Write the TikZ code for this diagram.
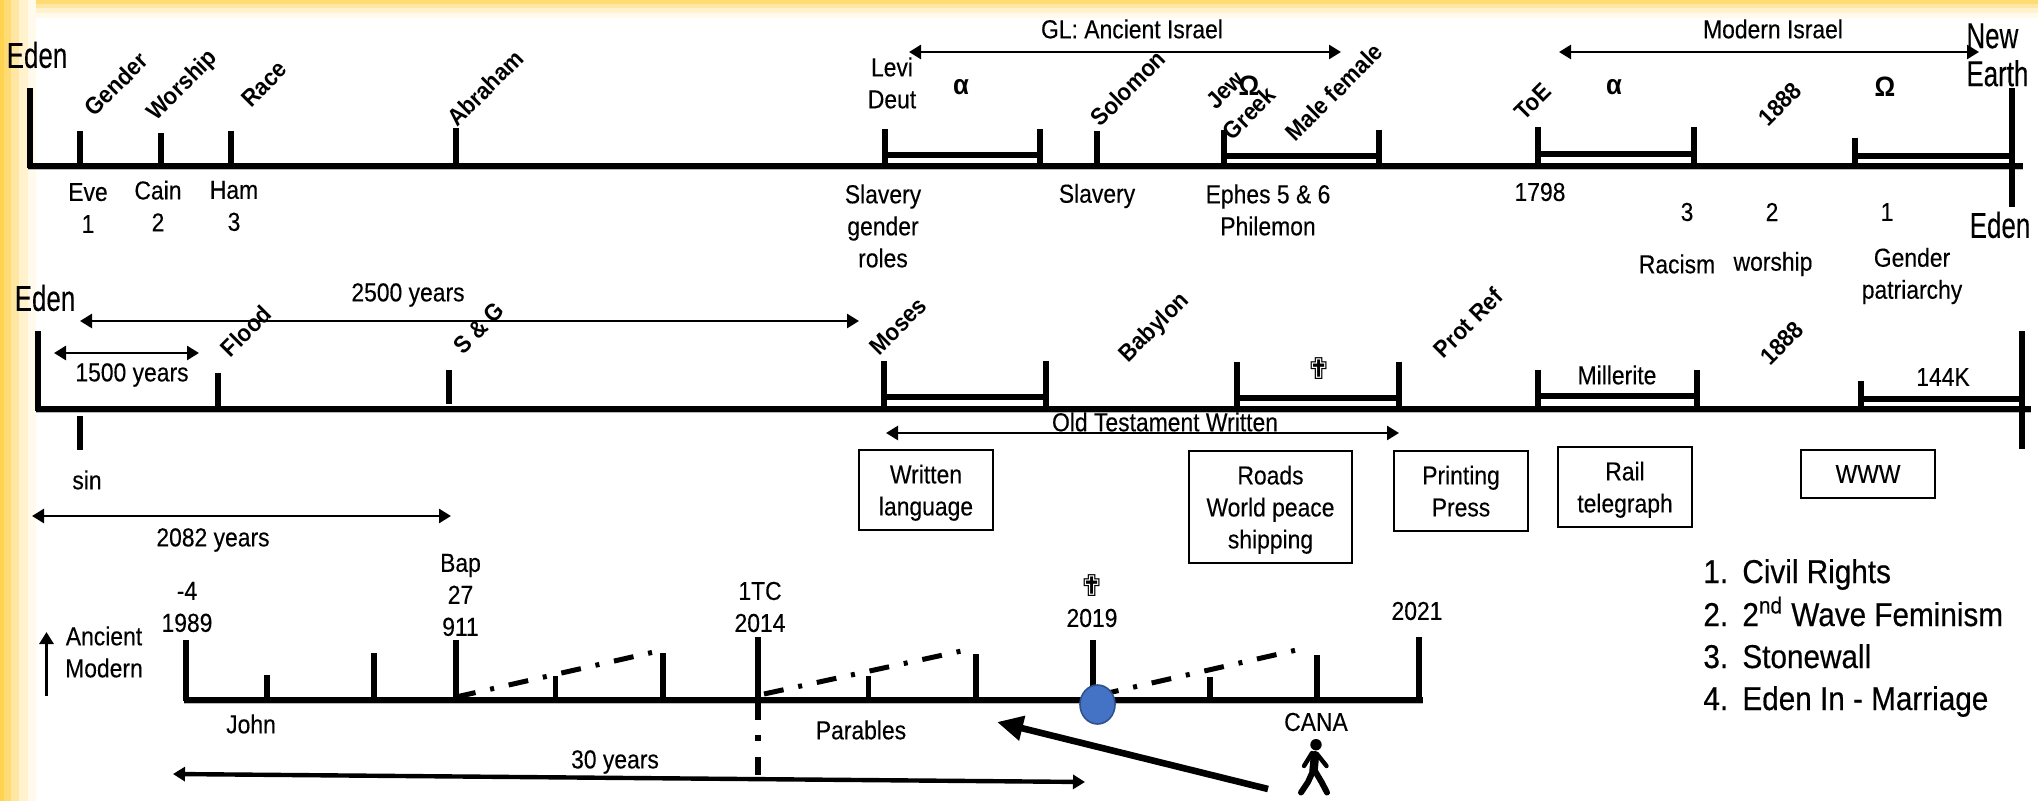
\documentclass[tikz,border=0pt]{standalone}
\usepackage{fontspec}
\usepackage{xcolor}
\usetikzlibrary{arrows.meta, shapes.geometric}
\setmainfont{Liberation Sans}
\newfontfamily\narrowfont[FakeStretch=.88, FakeBold=.25]{Liberation Sans}
\newfontfamily\tallfont[FakeStretch=.72, FakeBold=.25]{Liberation Sans}
\newfontfamily\listfont[FakeStretch=.9, FakeBold=.45]{Liberation Sans}
\newfontfamily\slantfont[FakeStretch=.92]{Liberation Sans Bold}
\newfontfamily\crossfont{DejaVu Sans}
\definecolor{bandone}{HTML}{FFD24F}
\definecolor{bandtwo}{HTML}{FFDB74}
\definecolor{bandthree}{HTML}{FFE7A3}
\definecolor{bandfour}{HTML}{FFF2CC}
\definecolor{bandfive}{HTML}{FFFAEC}
\definecolor{dotblue}{HTML}{4472C4}
\definecolor{dotedge}{HTML}{2F528F}

\begin{document}
\begin{tikzpicture}[
  x=.5pt, y=-.5pt,
  txt/.style={inner sep=0pt, align=center, font=\narrowfont\fontsize{13}{16}\selectfont},
  big/.style={inner sep=0pt, align=left, font=\tallfont\fontsize{18}{19}\selectfont},
  slant/.style={inner sep=0pt, rotate=45, font=\slantfont\fontsize{12}{14}\selectfont},
  greek/.style={inner sep=0pt, font=\slantfont\fontsize{14}{15}\selectfont},
  holy/.style={inner sep=0pt, font=\crossfont\fontsize{15}{16}\selectfont},
  boxed/.style={draw, line width=.7pt, rectangle, minimum width=67pt, align=center, inner sep=0pt, text depth=0pt, font=\narrowfont\fontsize{13}{16}\selectfont},
  listitem/.style={inner sep=0pt, anchor=base west, font=\listfont\fontsize{16.5}{20}\selectfont},
  axis/.style={line width=3pt, preaction={draw=gray!55, line width=3pt, transform canvas={yshift=-.7pt}}},
  tick/.style={line width=3pt},
  thin tick/.style={line width=2.6pt},
  bar/.style={line width=2.6pt},
  arrow/.style={<->, >={Triangle[length=6pt, width=7pt]}, line width=1.3pt},
  chain/.style={line width=2.5pt, dash pattern=on 10pt off 7.5pt on 2pt off 7.5pt}
]
  \useasboundingbox (0,0) rectangle (2038,801);
  \fill[bandfive] (0,0) rectangle (2038,18);
  \fill[bandfour] (0,0) rectangle (2038,13);
  \fill[bandthree] (0,0) rectangle (2038,8);
  \fill[bandtwo] (0,0) rectangle (2038,4);
  \fill[bandfive] (0,0) rectangle (36,801);
  \fill[bandfour] (0,0) rectangle (28,801);
  \fill[bandthree] (0,0) rectangle (19,801);
  \fill[bandtwo] (0,0) rectangle (11,801);
  \fill[bandone] (0,0) rectangle (4,801);

  % first line
  \coordinate (firststart) at (28,166);
  \coordinate (firstend) at (2023,166);
  \draw[axis] (firststart) -- (firstend);
  \draw[tick] (30,88) -- (30,168);
  \draw[tick] (79.5,131) -- (79.5,166);
  \draw[tick] (161,133) -- (161,166);
  \draw[tick] (231,131) -- (231,166);
  \draw[tick] (456,128) -- (456,166);
  \draw[tick] (885,129) -- (885,166);
  \draw[tick] (1040,129) -- (1040,166);
  \draw[bar] (885,155) -- (1040,155);
  \draw[tick] (1097,131) -- (1097,166);
  \draw[tick] (1224,130) -- (1224,166);
  \draw[tick] (1379,130) -- (1379,166);
  \draw[bar] (1224,156) -- (1379,156);
  \draw[tick] (1538,127) -- (1538,166);
  \draw[tick] (1693.5,127) -- (1693.5,166);
  \draw[bar] (1538,154) -- (1693.5,154);
  \draw[tick] (1854.5,138) -- (1854.5,166);
  \draw[bar] (1854.5,156) -- (2012,156);
  \draw[tick] (2012,88) -- (2012,207);

  \node[big] (edenone) at (37,55) {Eden};
  \node[slant] (gender) at (116,84) {Gender};
  \node[slant] (worship) at (183,86) {Worship};
  \node[slant] (race) at (264,84) {Race};
  \node[slant] (abraham) at (485,88) {Abraham};
  \node[txt] (eve) at (88,208) {Eve\\1};
  \node[txt] (cain) at (158,206) {Cain\\2};
  \node[txt] (ham) at (234,206) {Ham\\3};
  \node[txt] (levi) at (892,83) {Levi\\Deut};
  \node[greek] (alphaone) at (961,87) {α};
  \node[slant] (solomon) at (1128,88) {Solomon};
  \node[slant] (jew) at (1225,90) {Jew};
  \node[greek] (omegaone) at (1249,86) {Ω};
  \node[slant] (greekman) at (1249,113) {Greek};
  \node[slant] (male) at (1334,92) {Male female};
  \node[txt] (slaveryroles) at (883,226) {Slavery\\gender\\roles};
  \node[txt] (slavery) at (1097,196) {Slavery};
  \node[txt] (ephes) at (1268,210) {Ephes 5 \& 6\\Philemon};
  \node[slant] (toe) at (1533,102) {ToE};
  \node[greek] (alphatwo) at (1614,87) {α};
  \node[slant] (yearone) at (1780,104) {1888};
  \node[greek] (omegatwo) at (1885,87) {Ω};
  \node[big, anchor=west] (newearth) at (1966,55) {New\\Earth};
  \node[big] (edentwo) at (2000,225) {Eden};
  \node[txt] (toeyear) at (1540,192) {1798};
  \node[txt] (three) at (1687,212) {3};
  \node[txt] (two) at (1772,212) {2};
  \node[txt] (one) at (1887,212) {1};
  \node[txt] (racism) at (1677,264) {Racism};
  \node[txt] (worshiptwo) at (1773,264) {worship};
  \node[txt] (patriarchy) at (1912,276) {Gender\\patriarchy};

  \node[txt] (ancient) at (1132,29) {GL: Ancient Israel};
  \coordinate (ancientleft) at (909,52);
  \coordinate (ancientright) at (1341,52);
  \draw[arrow] (ancientleft) -- (ancientright);
  \node[txt] (modern) at (1773,29) {Modern Israel};
  \coordinate (modernleft) at (1559,52);
  \coordinate (modernright) at (1979,52);
  \draw[arrow] (modernleft) -- (modernright);

  % second line
  \coordinate (secondstart) at (36,409);
  \coordinate (secondend) at (2031,409);
  \draw[axis] (secondstart) -- (secondend);
  \draw[tick] (38,331) -- (38,411);
  \draw[tick] (79.5,416) -- (79.5,450);
  \draw[tick] (218,373) -- (218,409);
  \draw[tick] (449,370) -- (449,404);
  \draw[tick] (884,361) -- (884,409);
  \draw[tick] (1046,361) -- (1046,409);
  \draw[bar] (884,397) -- (1046,397);
  \draw[tick] (1236.5,362) -- (1236.5,409);
  \draw[tick] (1399,362) -- (1399,409);
  \draw[bar] (1236.5,398) -- (1399,398);
  \draw[tick] (1538,370) -- (1538,409);
  \draw[tick] (1697,370) -- (1697,409);
  \draw[bar] (1538,396) -- (1697,396);
  \draw[tick] (1861,381) -- (1861,409);
  \draw[bar] (1861,399) -- (2022,399);
  \draw[tick] (2022,331) -- (2022,449);

  \node[big] (edenthree) at (45,298) {Eden};
  \node[txt] (longyears) at (408,295) {2500 years};
  \coordinate (longleft) at (80,321);
  \coordinate (longright) at (859,321);
  \draw[arrow] (longleft) -- (longright);
  \coordinate (shortleft) at (54,353);
  \coordinate (shortright) at (199,353);
  \draw[arrow] (shortleft) -- (shortright);
  \node[txt] (shortyears) at (132,375) {1500 years};
  \node[slant] (flood) at (246,331) {Flood};
  \node[slant] (sandg) at (479,328) {S \& G};
  \node[txt] (sin) at (87,480) {sin};
  \coordinate (baptismleft) at (32,516);
  \coordinate (baptismright) at (451,516);
  \draw[arrow] (baptismleft) -- (baptismright);
  \node[txt] (baptismyears) at (213,540) {2082 years};
  \node[slant] (moses) at (898,326) {Moses};
  \node[slant] (babylon) at (1155,328) {Babylon};
  \node[slant] (protref) at (1468,323) {Prot Ref};
  \node[holy] (crossone) at (1319,369) {✟};
  \node[txt] (millerite) at (1617,375) {Millerite};
  \node[slant] (yeartwo) at (1782,343) {1888};
  \node[txt] (sealed) at (1943,377) {144K};
  \node[txt] (testament) at (1165,422) {Old Testament Written};
  \coordinate (testamentleft) at (886,433);
  \coordinate (testamentright) at (1399,433);
  \draw[arrow] (testamentleft) -- (testamentright);

  \node[boxed, minimum height=40pt] (written) at (926,490) {Written\\language};
  \node[boxed, minimum width=81.5pt, minimum height=56pt] (roads) at (1270.5,507) {Roads\\World peace\\shipping};
  \node[boxed, minimum height=40pt] (printing) at (1461,491) {Printing\\Press};
  \node[boxed, minimum height=40pt] (rail) at (1625,487) {Rail\\telegraph};
  \node[boxed, minimum height=24pt] (www) at (1868,474) {WWW};

  % third line
  \coordinate (thirdstart) at (184,700);
  \coordinate (thirdend) at (1423,700);
  \draw[axis] (thirdstart) -- (thirdend);
  \draw[tick] (186,640) -- (186,701);
  \draw[thin tick] (267,675) -- (267,700);
  \draw[thin tick] (374,653) -- (374,700);
  \draw[tick] (456,640) -- (456,700);
  \draw[thin tick] (555.5,676) -- (555.5,700);
  \draw[thin tick] (663,653) -- (663,700);
  \draw[thin tick] (758,637) -- (758,720);
  \draw[thin tick, dash pattern=on 3pt off 8pt on 9pt] (758,735) -- (758,775);
  \draw[thin tick] (868.5,676) -- (868.5,700);
  \draw[thin tick] (976,654) -- (976,700);
  \draw[thin tick] (1093,640) -- (1093,700);
  \draw[thin tick] (1210,677) -- (1210,700);
  \draw[thin tick] (1317,655) -- (1317,700);
  \draw[thin tick] (1419,637) -- (1419,700);

  \coordinate (chainonea) at (456,697);
  \coordinate (chainoneb) at (654,652);
  \draw[chain] (chainonea) -- (chainoneb);
  \coordinate (chaintwoa) at (764,694);
  \coordinate (chaintwob) at (961.5,651);
  \draw[chain] (chaintwoa) -- (chaintwob);
  \coordinate (chainthreea) at (1099,695);
  \coordinate (chainthreeb) at (1296.5,650);
  \draw[chain] (chainthreea) -- (chainthreeb);

  \node[ellipse, draw=dotedge, fill=dotblue, line width=.8pt, minimum width=17.5pt, minimum height=19.5pt, inner sep=0pt] (tomb) at (1097.5,704.5) {};

  \node[txt] (birth) at (187,607) {-4\\1989};
  \node[txt] (baptism) at (460.5,595) {Bap\\27\\911};
  \node[txt] (temple) at (760,607) {1TC\\2014};
  \node[holy] (crosstwo) at (1092,586) {✟};
  \node[txt] (death) at (1092,618) {2019};
  \node[txt] (last) at (1417,611) {2021};
  \node[txt] (ages) at (104,652) {Ancient\\Modern};
  \coordinate (agesbottom) at (46.5,696);
  \coordinate (agestop) at (46.5,632);
  \draw[arrow, <-, line width=1.8pt] (agestop) -- (agesbottom);
  \node[txt] (john) at (251,724) {John};
  \node[txt] (parables) at (861,730) {Parables};
  \node[txt] (cana) at (1316,722) {CANA};
  \node[txt] (thirty) at (615,762) {30 years};
  \coordinate (thirtyleft) at (173,774);
  \coordinate (thirtyright) at (1085,782);
  \draw[arrow, line width=2.2pt] (thirtyleft) -- (thirtyright);
  \coordinate (walkstart) at (1268,789);
  \coordinate (walkend) at (997,722);
  \draw[-{Triangle[length=13pt, width=12pt]}, line width=3.3pt] (walkstart) -- (walkend);

  \fill (1316,744.7) circle (5.7);
  \draw[line width=4.2pt, line cap=round] (1315,755) -- (1313.5,771);
  \draw[line width=2.2pt, line cap=round] (1312,753) -- (1304,766);
  \draw[line width=2.2pt, line cap=round] (1317,754) -- (1326.5,766);
  \draw[line width=3pt, line cap=round, line join=round] (1313,771) -- (1308,782) -- (1301,792.5);
  \draw[line width=3pt, line cap=round, line join=round] (1315,771) -- (1321.5,782) -- (1327,792.5);

  \node[listitem] (civil) at (1703,583) {\makebox[19.5pt][l]{1.}Civil Rights};
  \node[listitem] (feminism) at (1703,626) {\makebox[19.5pt][l]{2.}2\textsuperscript{nd} Wave Feminism};
  \node[listitem] (stonewall) at (1703,668) {\makebox[19.5pt][l]{3.}Stonewall};
  \node[listitem] (marriage) at (1703,710) {\makebox[19.5pt][l]{4.}Eden In - Marriage};
\end{tikzpicture}
\end{document}
